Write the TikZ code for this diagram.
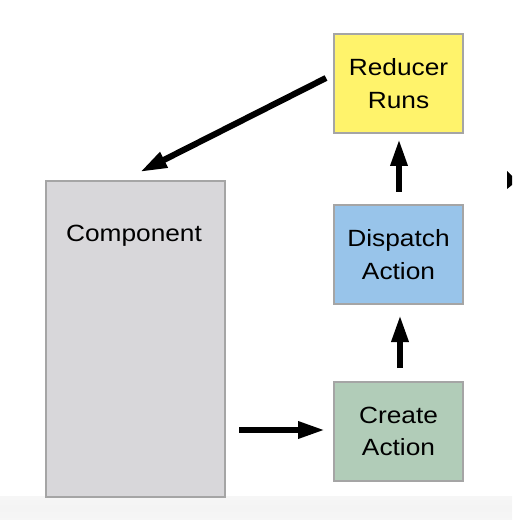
\documentclass[tikz,border=0pt]{standalone}
\usepackage{fontspec}
\newfontfamily\lbl[FakeStretch=1.12]{Liberation Sans}
\usetikzlibrary{arrows.meta}
\definecolor{redfill}{RGB}{255,243,107}
\definecolor{dispfill}{RGB}{152,196,234}
\definecolor{createfill}{RGB}{177,204,184}
\definecolor{compfill}{RGB}{216,215,218}
\definecolor{boxline}{RGB}{165,165,165}
\tikzset{
  lblfont/.style={font=\lbl\fontsize{17.6pt}{24.2pt}\selectfont},
  box/.style={draw=boxline, line width=1.1pt, inner sep=0pt, outer sep=0pt,
    minimum width=96.75pt, minimum height=74.25pt, lblfont, align=center},
  flow/.style={line width=4.6pt, -{Triangle[length=20.25pt,width=12pt]}},
}
\begin{document}
\begin{tikzpicture}[x=0.75pt,y=-0.75pt]
\useasboundingbox (0,0) rectangle (512,520);
\fill[white] (0,0) rectangle (512,520);
\shade[top color={rgb,255:red,246;green,246;blue,246}, bottom color={rgb,255:red,246;green,246;blue,246}, middle color={rgb,255:red,244;green,244;blue,244}] (0,496) rectangle (512,520);
\fill[black] (507,171) -- (512,176) -- (512,185) -- (507,189) -- cycle;
\node[box, fill=compfill, minimum width=134.25pt, minimum height=237pt] (comp) at (135.5,339) {};
\node[lblfont, anchor=base, inner sep=0pt] (comptext) at (134,241) {Component};
\node[box, fill=redfill] (red) at (398.5,83.5) {Reducer\\Runs};
\node[box, fill=dispfill] (disp) at (398.5,254.5) {Dispatch\\Action};
\node[box, fill=createfill] (create) at (398.5,431.5) {Create\\Action};
\coordinate (dtail) at (326,78);
\coordinate (dtip) at (140,172);
\draw[flow, shorten <=10.5pt, shorten >=6.75pt] (comp.east |- 0,430) -- (create.west |- 0,430);
\draw[flow, shorten <=10.5pt, shorten >=8.25pt] (create.north -| 400,0) -- (disp.south -| 400,0);
\draw[flow, shorten <=9.75pt, shorten >=4.5pt] (disp.north -| 399,0) -- (red.south -| 399,0);
\draw[flow] (dtail) -- (dtip);
\end{tikzpicture}
\end{document}
